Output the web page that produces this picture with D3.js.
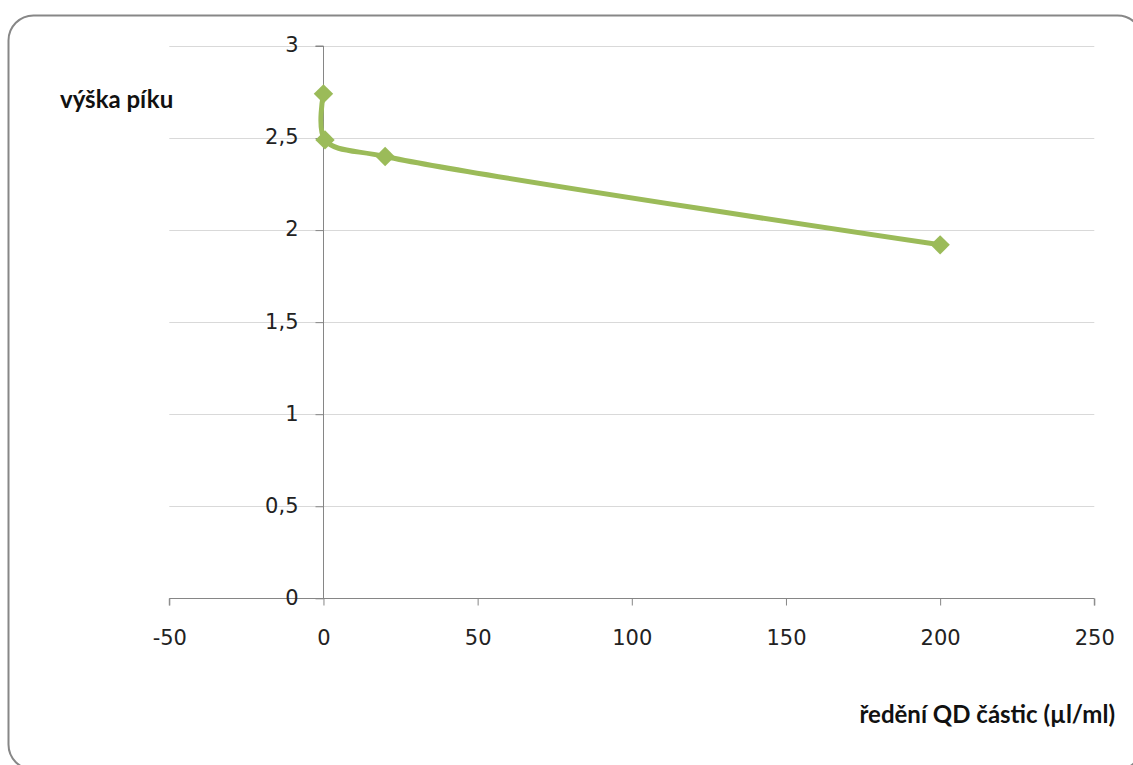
<!DOCTYPE html>
<html>
<head>
<meta charset="utf-8">
<script src="https://cdn.jsdelivr.net/npm/d3@7"></script>
<style>
  html, body { margin: 0; padding: 0; background: #fff; }
  svg { display: block; }
</style>
</head>
<body>
<svg id="chart" width="1133" height="765"></svg>
<script>
// Dilution of QD particles (µl/ml) vs. peak height
const dilution = [0, 0.5, 20, 200];
const peakHeight = [2.74, 2.49, 2.40, 1.92];
const xTicks = [-50, 0, 50, 100, 150, 200, 250];
const yTicks = [0, 0.5, 1, 1.5, 2, 2.5, 3];
const yTickLabels = ["0", "0,5", "1", "1,5", "2", "2,5", "3"];
const yTitle = "výška píku";
const xTitle = "ředění QD částic (µl/ml)";

const svg = d3.select("#chart");

// outer rounded frame
svg.append("rect")
  .attr("x", 8.5).attr("y", 15.5)
  .attr("width", 1134).attr("height", 754)
  .attr("rx", 25).attr("ry", 25)
  .attr("fill", "#fff")
  .attr("stroke", "#878787")
  .attr("stroke-width", 2);

const x = d3.scaleLinear().domain([-50, 250]).range([169.3, 1094.3]);
const y = d3.scaleLinear().domain([0, 3]).range([598.3, 46]);

const tickFont = "'DejaVu Sans', sans-serif";
const axisColor = "#868686";

// horizontal gridlines
svg.append("g")
  .selectAll("line")
  .data(yTicks.filter(d => d !== 0))
  .join("line")
  .attr("x1", x(-50)).attr("x2", x(250))
  .attr("y1", d => Math.round(y(d)) + 0.5).attr("y2", d => Math.round(y(d)) + 0.5)
  .attr("stroke", "#d9d9d9")
  .attr("stroke-width", 1);

// x axis along y = 0, ticks pointing down
const xAxis = d3.axisBottom(x)
  .tickValues(xTicks)
  .tickSize(7)
  .tickPadding(25)
  .tickFormat(d3.format("d"));
const gx = svg.append("g")
  .attr("transform", `translate(0,${Math.round(y(0)) + 0.5})`)
  .call(xAxis);
gx.select(".domain").attr("stroke", axisColor).attr("d", `M${x(-50)},7V0H${x(250)}V7`);
gx.selectAll(".tick line").attr("stroke", axisColor);
gx.selectAll(".tick text")
  .attr("fill", "#222")
  .style("font-family", tickFont)
  .style("font-size", "21px")
  .text(d => d < 0 ? "-" + Math.abs(d) : d);

// y axis crossing at x = 0, ticks pointing left
const yAxis = d3.axisLeft(y)
  .tickValues(yTicks)
  .tickSize(8)
  .tickPadding(17)
  .tickFormat((d, i) => yTickLabels[i]);
const gy = svg.append("g")
  .attr("transform", `translate(${Math.round(x(0)) + 0.5},0)`)
  .call(yAxis);
gy.select(".domain").attr("stroke", axisColor).attr("d", `M-8,${y(3)}H0V${y(0)}`);
gy.selectAll(".tick line").attr("stroke", axisColor);
gy.selectAll(".tick text")
  .attr("fill", "#222")
  .attr("dy", "0.28em")
  .style("font-family", tickFont)
  .style("font-size", "21px");

// data series
const pts = dilution.map((d, i) => [x(d), y(peakHeight[i])]);
const lineColor = "#9bbb59";

svg.append("path")
  .attr("d", d3.line().curve(d3.curveCatmullRom.alpha(0.5))(pts))
  .attr("fill", "none")
  .attr("stroke", lineColor)
  .attr("stroke-width", 5)
  .attr("stroke-linejoin", "round")
  .attr("stroke-linecap", "round");

svg.append("g")
  .selectAll("path")
  .data(pts)
  .join("path")
  .attr("transform", d => `translate(${d[0]},${d[1]})`)
  .attr("d", d3.symbol().type(d3.symbolDiamond2).size(240))
  .attr("fill", lineColor);

// axis titles
svg.append("text")
  .attr("x", 60).attr("y", 108)
  .attr("fill", "#111")
  .style("font-family", "Lato, sans-serif")
  .style("font-weight", "bold")
  .style("font-size", "24px")
  .text(yTitle);

svg.append("text")
  .attr("x", 1115).attr("y", 723)
  .attr("text-anchor", "end")
  .attr("fill", "#111")
  .style("font-family", "Lato, sans-serif")
  .style("font-weight", "bold")
  .style("font-size", "24px")
  .text(xTitle);
</script>
</body>
</html>
